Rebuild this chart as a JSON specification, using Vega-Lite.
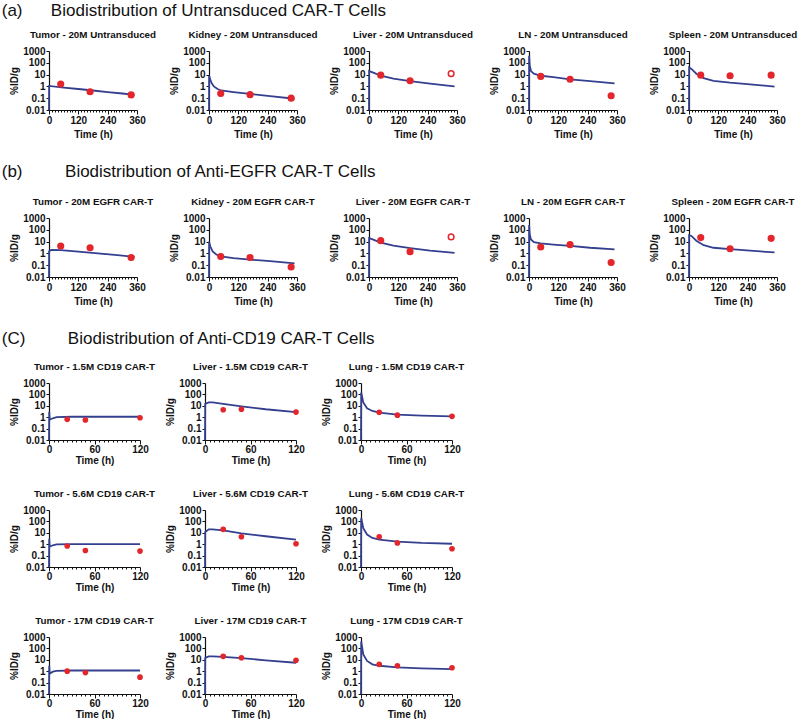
{
  "$schema": "https://vega.github.io/schema/vega-lite/v6.json",
  "background": "white",
  "padding": {"left": 1, "top": 2, "right": 0, "bottom": 0},
  "config": {
    "font": "Liberation Sans",
    "view": {"stroke": null},
    "title": {"font": "Liberation Sans", "fontSize": 9.8, "fontWeight": "bold", "color": "#111111", "offset": 6},
    "axis": {"grid": false, "domainColor": "#111111", "tickColor": "#111111", "labelColor": "#111111", "titleColor": "#111111", "labelFont": "Liberation Sans", "titleFont": "Liberation Sans", "labelFontSize": 10, "labelFontWeight": "bold", "titleFontSize": 10, "titleFontWeight": "bold", "tickSize": 3, "labelPadding": 1, "domainWidth": 1.2, "tickWidth": 1}
  },
  "datasets": {
    "d": [
      {"p": "a1", "k": "c", "t": 0, "v": 0.01}, {"p": "a1", "k": "c", "t": 0.5, "v": 1.1}, {"p": "a1", "k": "c", "t": 60, "v": 0.8}, {"p": "a1", "k": "c", "t": 120, "v": 0.6}, {"p": "a1", "k": "c", "t": 180, "v": 0.45}, {"p": "a1", "k": "c", "t": 240, "v": 0.33}, {"p": "a1", "k": "c", "t": 300, "v": 0.25}, {"p": "a1", "k": "c", "t": 350, "v": 0.19},
      {"p": "a1", "k": "p", "t": 48, "v": 1.6}, {"p": "a1", "k": "p", "t": 168, "v": 0.35}, {"p": "a1", "k": "p", "t": 336, "v": 0.19},
      {"p": "a2", "k": "c", "t": 0, "v": 0.01}, {"p": "a2", "k": "c", "t": 0.5, "v": 8}, {"p": "a2", "k": "c", "t": 5, "v": 4}, {"p": "a2", "k": "c", "t": 10, "v": 2}, {"p": "a2", "k": "c", "t": 20, "v": 1}, {"p": "a2", "k": "c", "t": 35, "v": 0.6}, {"p": "a2", "k": "c", "t": 50, "v": 0.45}, {"p": "a2", "k": "c", "t": 100, "v": 0.33}, {"p": "a2", "k": "c", "t": 168, "v": 0.23}, {"p": "a2", "k": "c", "t": 250, "v": 0.15}, {"p": "a2", "k": "c", "t": 350, "v": 0.09},
      {"p": "a2", "k": "p", "t": 48, "v": 0.25}, {"p": "a2", "k": "p", "t": 168, "v": 0.2}, {"p": "a2", "k": "p", "t": 336, "v": 0.1},
      {"p": "a3", "k": "c", "t": 0, "v": 0.01}, {"p": "a3", "k": "c", "t": 0.5, "v": 20}, {"p": "a3", "k": "c", "t": 20, "v": 14}, {"p": "a3", "k": "c", "t": 48, "v": 8}, {"p": "a3", "k": "c", "t": 100, "v": 4.5}, {"p": "a3", "k": "c", "t": 168, "v": 2.8}, {"p": "a3", "k": "c", "t": 250, "v": 1.7}, {"p": "a3", "k": "c", "t": 350, "v": 1.0},
      {"p": "a3", "k": "p", "t": 48, "v": 9}, {"p": "a3", "k": "p", "t": 168, "v": 3}, {"p": "a3", "k": "p", "t": 336, "v": 12, "open": true},
      {"p": "a4", "k": "c", "t": 0, "v": 0.01}, {"p": "a4", "k": "c", "t": 0.5, "v": 400}, {"p": "a4", "k": "c", "t": 3, "v": 60}, {"p": "a4", "k": "c", "t": 8, "v": 20}, {"p": "a4", "k": "c", "t": 20, "v": 12}, {"p": "a4", "k": "c", "t": 48, "v": 8}, {"p": "a4", "k": "c", "t": 100, "v": 6}, {"p": "a4", "k": "c", "t": 168, "v": 4}, {"p": "a4", "k": "c", "t": 250, "v": 2.8}, {"p": "a4", "k": "c", "t": 350, "v": 1.8},
      {"p": "a4", "k": "p", "t": 48, "v": 7}, {"p": "a4", "k": "p", "t": 168, "v": 4}, {"p": "a4", "k": "p", "t": 336, "v": 0.16},
      {"p": "a5", "k": "c", "t": 0, "v": 0.01}, {"p": "a5", "k": "c", "t": 0.5, "v": 40}, {"p": "a5", "k": "c", "t": 10, "v": 30}, {"p": "a5", "k": "c", "t": 30, "v": 12}, {"p": "a5", "k": "c", "t": 60, "v": 5}, {"p": "a5", "k": "c", "t": 100, "v": 3}, {"p": "a5", "k": "c", "t": 168, "v": 2.1}, {"p": "a5", "k": "c", "t": 250, "v": 1.5}, {"p": "a5", "k": "c", "t": 350, "v": 0.95},
      {"p": "a5", "k": "p", "t": 48, "v": 9}, {"p": "a5", "k": "p", "t": 168, "v": 8}, {"p": "a5", "k": "p", "t": 336, "v": 9},
      {"p": "b1", "k": "c", "t": 0, "v": 0.01}, {"p": "b1", "k": "c", "t": 0.5, "v": 1.5}, {"p": "b1", "k": "c", "t": 10, "v": 2}, {"p": "b1", "k": "c", "t": 48, "v": 1.9}, {"p": "b1", "k": "c", "t": 120, "v": 1.4}, {"p": "b1", "k": "c", "t": 200, "v": 1}, {"p": "b1", "k": "c", "t": 280, "v": 0.7}, {"p": "b1", "k": "c", "t": 350, "v": 0.5},
      {"p": "b1", "k": "p", "t": 48, "v": 4.2}, {"p": "b1", "k": "p", "t": 168, "v": 3}, {"p": "b1", "k": "p", "t": 336, "v": 0.45},
      {"p": "b2", "k": "c", "t": 0, "v": 0.01}, {"p": "b2", "k": "c", "t": 0.5, "v": 10}, {"p": "b2", "k": "c", "t": 5, "v": 4}, {"p": "b2", "k": "c", "t": 15, "v": 1.5}, {"p": "b2", "k": "c", "t": 30, "v": 0.8}, {"p": "b2", "k": "c", "t": 48, "v": 0.55}, {"p": "b2", "k": "c", "t": 100, "v": 0.4}, {"p": "b2", "k": "c", "t": 168, "v": 0.3}, {"p": "b2", "k": "c", "t": 250, "v": 0.22}, {"p": "b2", "k": "c", "t": 350, "v": 0.14},
      {"p": "b2", "k": "p", "t": 48, "v": 0.55}, {"p": "b2", "k": "p", "t": 168, "v": 0.45}, {"p": "b2", "k": "p", "t": 336, "v": 0.07},
      {"p": "b3", "k": "c", "t": 0, "v": 0.01}, {"p": "b3", "k": "c", "t": 0.5, "v": 20}, {"p": "b3", "k": "c", "t": 20, "v": 14}, {"p": "b3", "k": "c", "t": 48, "v": 8}, {"p": "b3", "k": "c", "t": 100, "v": 4.5}, {"p": "b3", "k": "c", "t": 168, "v": 2.8}, {"p": "b3", "k": "c", "t": 250, "v": 1.7}, {"p": "b3", "k": "c", "t": 350, "v": 1.1},
      {"p": "b3", "k": "p", "t": 48, "v": 12}, {"p": "b3", "k": "p", "t": 168, "v": 1.4}, {"p": "b3", "k": "p", "t": 336, "v": 25, "open": true},
      {"p": "b4", "k": "c", "t": 0, "v": 0.01}, {"p": "b4", "k": "c", "t": 0.5, "v": 250}, {"p": "b4", "k": "c", "t": 3, "v": 40}, {"p": "b4", "k": "c", "t": 8, "v": 15}, {"p": "b4", "k": "c", "t": 20, "v": 9}, {"p": "b4", "k": "c", "t": 48, "v": 7}, {"p": "b4", "k": "c", "t": 100, "v": 5.5}, {"p": "b4", "k": "c", "t": 168, "v": 4.3}, {"p": "b4", "k": "c", "t": 250, "v": 3}, {"p": "b4", "k": "c", "t": 350, "v": 2.2},
      {"p": "b4", "k": "p", "t": 48, "v": 3.5}, {"p": "b4", "k": "p", "t": 168, "v": 5.5}, {"p": "b4", "k": "p", "t": 336, "v": 0.17},
      {"p": "b5", "k": "c", "t": 0, "v": 0.01}, {"p": "b5", "k": "c", "t": 0.5, "v": 35}, {"p": "b5", "k": "c", "t": 10, "v": 30}, {"p": "b5", "k": "c", "t": 30, "v": 12}, {"p": "b5", "k": "c", "t": 60, "v": 5}, {"p": "b5", "k": "c", "t": 100, "v": 3}, {"p": "b5", "k": "c", "t": 168, "v": 2.3}, {"p": "b5", "k": "c", "t": 250, "v": 1.7}, {"p": "b5", "k": "c", "t": 350, "v": 1.2},
      {"p": "b5", "k": "p", "t": 48, "v": 22}, {"p": "b5", "k": "p", "t": 168, "v": 2.5}, {"p": "b5", "k": "p", "t": 336, "v": 19},
      {"p": "c1", "k": "c", "t": 0, "v": 0.01}, {"p": "c1", "k": "c", "t": 0.3, "v": 3}, {"p": "c1", "k": "c", "t": 1, "v": 0.6}, {"p": "c1", "k": "c", "t": 5, "v": 0.8}, {"p": "c1", "k": "c", "t": 10, "v": 1.0}, {"p": "c1", "k": "c", "t": 30, "v": 1.1}, {"p": "c1", "k": "c", "t": 120, "v": 1.1},
      {"p": "c1", "k": "p", "t": 24, "v": 0.65}, {"p": "c1", "k": "p", "t": 48, "v": 0.57}, {"p": "c1", "k": "p", "t": 120, "v": 0.9},
      {"p": "c2", "k": "c", "t": 0, "v": 0.01}, {"p": "c2", "k": "c", "t": 0.3, "v": 15}, {"p": "c2", "k": "c", "t": 5, "v": 20}, {"p": "c2", "k": "c", "t": 10, "v": 20}, {"p": "c2", "k": "c", "t": 24, "v": 15}, {"p": "c2", "k": "c", "t": 48, "v": 9}, {"p": "c2", "k": "c", "t": 80, "v": 5}, {"p": "c2", "k": "c", "t": 120, "v": 2.8},
      {"p": "c2", "k": "p", "t": 24, "v": 4.5}, {"p": "c2", "k": "p", "t": 48, "v": 5}, {"p": "c2", "k": "p", "t": 120, "v": 2.8},
      {"p": "c3", "k": "c", "t": 0, "v": 0.01}, {"p": "c3", "k": "c", "t": 0.3, "v": 150}, {"p": "c3", "k": "c", "t": 3, "v": 20}, {"p": "c3", "k": "c", "t": 8, "v": 6}, {"p": "c3", "k": "c", "t": 15, "v": 3.5}, {"p": "c3", "k": "c", "t": 24, "v": 2.5}, {"p": "c3", "k": "c", "t": 48, "v": 1.7}, {"p": "c3", "k": "c", "t": 80, "v": 1.4}, {"p": "c3", "k": "c", "t": 120, "v": 1.2},
      {"p": "c3", "k": "p", "t": 24, "v": 2.7}, {"p": "c3", "k": "p", "t": 48, "v": 1.5}, {"p": "c3", "k": "p", "t": 120, "v": 1.2},
      {"p": "c4", "k": "c", "t": 0, "v": 0.01}, {"p": "c4", "k": "c", "t": 0.3, "v": 3}, {"p": "c4", "k": "c", "t": 1, "v": 0.6}, {"p": "c4", "k": "c", "t": 5, "v": 0.8}, {"p": "c4", "k": "c", "t": 10, "v": 0.95}, {"p": "c4", "k": "c", "t": 30, "v": 1.0}, {"p": "c4", "k": "c", "t": 120, "v": 1.0},
      {"p": "c4", "k": "p", "t": 24, "v": 0.7}, {"p": "c4", "k": "p", "t": 48, "v": 0.28}, {"p": "c4", "k": "p", "t": 120, "v": 0.25},
      {"p": "c5", "k": "c", "t": 0, "v": 0.01}, {"p": "c5", "k": "c", "t": 0.3, "v": 12}, {"p": "c5", "k": "c", "t": 5, "v": 20}, {"p": "c5", "k": "c", "t": 10, "v": 20}, {"p": "c5", "k": "c", "t": 24, "v": 16}, {"p": "c5", "k": "c", "t": 48, "v": 9}, {"p": "c5", "k": "c", "t": 80, "v": 5}, {"p": "c5", "k": "c", "t": 120, "v": 2.5},
      {"p": "c5", "k": "p", "t": 24, "v": 20}, {"p": "c5", "k": "p", "t": 48, "v": 4.5}, {"p": "c5", "k": "p", "t": 120, "v": 1.1},
      {"p": "c6", "k": "c", "t": 0, "v": 0.01}, {"p": "c6", "k": "c", "t": 0.3, "v": 200}, {"p": "c6", "k": "c", "t": 3, "v": 25}, {"p": "c6", "k": "c", "t": 8, "v": 7}, {"p": "c6", "k": "c", "t": 15, "v": 3.5}, {"p": "c6", "k": "c", "t": 24, "v": 2.5}, {"p": "c6", "k": "c", "t": 48, "v": 1.7}, {"p": "c6", "k": "c", "t": 80, "v": 1.3}, {"p": "c6", "k": "c", "t": 120, "v": 1.1},
      {"p": "c6", "k": "p", "t": 24, "v": 4.5}, {"p": "c6", "k": "p", "t": 48, "v": 1.3}, {"p": "c6", "k": "p", "t": 120, "v": 0.4},
      {"p": "c7", "k": "c", "t": 0, "v": 0.01}, {"p": "c7", "k": "c", "t": 0.3, "v": 3}, {"p": "c7", "k": "c", "t": 1, "v": 0.6}, {"p": "c7", "k": "c", "t": 5, "v": 0.9}, {"p": "c7", "k": "c", "t": 10, "v": 1.05}, {"p": "c7", "k": "c", "t": 30, "v": 1.15}, {"p": "c7", "k": "c", "t": 120, "v": 1.15},
      {"p": "c7", "k": "p", "t": 24, "v": 1.0}, {"p": "c7", "k": "p", "t": 48, "v": 0.75}, {"p": "c7", "k": "p", "t": 120, "v": 0.3},
      {"p": "c8", "k": "c", "t": 0, "v": 0.01}, {"p": "c8", "k": "c", "t": 0.3, "v": 15}, {"p": "c8", "k": "c", "t": 5, "v": 20}, {"p": "c8", "k": "c", "t": 10, "v": 20}, {"p": "c8", "k": "c", "t": 24, "v": 18}, {"p": "c8", "k": "c", "t": 48, "v": 14}, {"p": "c8", "k": "c", "t": 80, "v": 9}, {"p": "c8", "k": "c", "t": 120, "v": 5.5},
      {"p": "c8", "k": "p", "t": 24, "v": 20}, {"p": "c8", "k": "p", "t": 48, "v": 15}, {"p": "c8", "k": "p", "t": 120, "v": 9},
      {"p": "c9", "k": "c", "t": 0, "v": 0.01}, {"p": "c9", "k": "c", "t": 0.3, "v": 400}, {"p": "c9", "k": "c", "t": 3, "v": 30}, {"p": "c9", "k": "c", "t": 8, "v": 8}, {"p": "c9", "k": "c", "t": 15, "v": 4}, {"p": "c9", "k": "c", "t": 24, "v": 3}, {"p": "c9", "k": "c", "t": 48, "v": 2.2}, {"p": "c9", "k": "c", "t": 80, "v": 1.8}, {"p": "c9", "k": "c", "t": 120, "v": 1.5},
      {"p": "c9", "k": "p", "t": 24, "v": 4}, {"p": "c9", "k": "p", "t": 48, "v": 3}, {"p": "c9", "k": "p", "t": 120, "v": 2}
    ]
  },
  "spacing": 24,
  "vconcat": [
    {
      "title": {"text": "(a)\u00a0\u00a0\u00a0\u00a0\u00a0\u00a0Biodistribution of Untransduced CAR-T Cells", "fontSize": 17, "fontWeight": "normal", "anchor": "start", "frame": "bounds", "offset": 10, "dx": -8},
      "bounds": "flush", "spacing": 72,
      "hconcat": [
        {"title": "Tumor - 20M Untransduced", "width": 88, "height": 59, "data": {"name": "d"}, "transform": [{"filter": "datum.p === 'a1'"}],
         "encoding": {"x": {"field": "t", "type": "quantitative", "scale": {"domain": [0, 360], "nice": false}, "axis": {"title": "Time (h)", "values": [0,12,24,36,48,60,72,84,96,108,120,132,144,156,168,180,192,204,216,228,240,252,264,276,288,300,312,324,336,348,360], "labelExpr": "datum.value % 120 === 0 ? datum.label : ''", "tickSize": {"condition": {"test": "datum.value % 120 === 0", "value": 4}, "value": 2}, "labelFlush": false, "labelOverlap": false}},
                      "y": {"field": "v", "type": "quantitative", "scale": {"type": "log", "domain": [0.01, 1000], "nice": false}, "axis": {"title": "%ID/g", "values": [0.01, 0.1, 1, 10, 100, 1000], "format": "~g", "labelOverlap": false, "titlePadding": 3}}},
         "layer": [
           {"transform": [{"filter": "datum.k === 'c'"}], "mark": {"type": "line", "color": "#34408f", "strokeWidth": 1.8}},
           {"transform": [{"filter": "datum.k === 'p'"}], "mark": {"type": "point", "shape": "circle", "size": 32, "strokeWidth": 1.5, "color": "#e3262c", "opacity": 1}, "encoding": {"fill": {"condition": {"test": "datum.open", "value": "white"}, "value": "#e3262c"}}}
         ]},
        {"title": "Kidney - 20M Untransduced", "width": 88, "height": 59, "data": {"name": "d"}, "transform": [{"filter": "datum.p === 'a2'"}],
         "encoding": {"x": {"field": "t", "type": "quantitative", "scale": {"domain": [0, 360], "nice": false}, "axis": {"title": "Time (h)", "values": [0,12,24,36,48,60,72,84,96,108,120,132,144,156,168,180,192,204,216,228,240,252,264,276,288,300,312,324,336,348,360], "labelExpr": "datum.value % 120 === 0 ? datum.label : ''", "tickSize": {"condition": {"test": "datum.value % 120 === 0", "value": 4}, "value": 2}, "labelFlush": false, "labelOverlap": false}},
                      "y": {"field": "v", "type": "quantitative", "scale": {"type": "log", "domain": [0.01, 1000], "nice": false}, "axis": {"title": "%ID/g", "values": [0.01, 0.1, 1, 10, 100, 1000], "format": "~g", "labelOverlap": false, "titlePadding": 3}}},
         "layer": [
           {"transform": [{"filter": "datum.k === 'c'"}], "mark": {"type": "line", "color": "#34408f", "strokeWidth": 1.8}},
           {"transform": [{"filter": "datum.k === 'p'"}], "mark": {"type": "point", "shape": "circle", "size": 32, "strokeWidth": 1.5, "color": "#e3262c", "opacity": 1}, "encoding": {"fill": {"condition": {"test": "datum.open", "value": "white"}, "value": "#e3262c"}}}
         ]},
        {"title": "Liver - 20M Untransduced", "width": 88, "height": 59, "data": {"name": "d"}, "transform": [{"filter": "datum.p === 'a3'"}],
         "encoding": {"x": {"field": "t", "type": "quantitative", "scale": {"domain": [0, 360], "nice": false}, "axis": {"title": "Time (h)", "values": [0,12,24,36,48,60,72,84,96,108,120,132,144,156,168,180,192,204,216,228,240,252,264,276,288,300,312,324,336,348,360], "labelExpr": "datum.value % 120 === 0 ? datum.label : ''", "tickSize": {"condition": {"test": "datum.value % 120 === 0", "value": 4}, "value": 2}, "labelFlush": false, "labelOverlap": false}},
                      "y": {"field": "v", "type": "quantitative", "scale": {"type": "log", "domain": [0.01, 1000], "nice": false}, "axis": {"title": "%ID/g", "values": [0.01, 0.1, 1, 10, 100, 1000], "format": "~g", "labelOverlap": false, "titlePadding": 3}}},
         "layer": [
           {"transform": [{"filter": "datum.k === 'c'"}], "mark": {"type": "line", "color": "#34408f", "strokeWidth": 1.8}},
           {"transform": [{"filter": "datum.k === 'p'"}], "mark": {"type": "point", "shape": "circle", "size": 32, "strokeWidth": 1.5, "color": "#e3262c", "opacity": 1}, "encoding": {"fill": {"condition": {"test": "datum.open", "value": "white"}, "value": "#e3262c"}}}
         ]},
        {"title": "LN - 20M Untransduced", "width": 88, "height": 59, "data": {"name": "d"}, "transform": [{"filter": "datum.p === 'a4'"}],
         "encoding": {"x": {"field": "t", "type": "quantitative", "scale": {"domain": [0, 360], "nice": false}, "axis": {"title": "Time (h)", "values": [0,12,24,36,48,60,72,84,96,108,120,132,144,156,168,180,192,204,216,228,240,252,264,276,288,300,312,324,336,348,360], "labelExpr": "datum.value % 120 === 0 ? datum.label : ''", "tickSize": {"condition": {"test": "datum.value % 120 === 0", "value": 4}, "value": 2}, "labelFlush": false, "labelOverlap": false}},
                      "y": {"field": "v", "type": "quantitative", "scale": {"type": "log", "domain": [0.01, 1000], "nice": false}, "axis": {"title": "%ID/g", "values": [0.01, 0.1, 1, 10, 100, 1000], "format": "~g", "labelOverlap": false, "titlePadding": 3}}},
         "layer": [
           {"transform": [{"filter": "datum.k === 'c'"}], "mark": {"type": "line", "color": "#34408f", "strokeWidth": 1.8}},
           {"transform": [{"filter": "datum.k === 'p'"}], "mark": {"type": "point", "shape": "circle", "size": 32, "strokeWidth": 1.5, "color": "#e3262c", "opacity": 1}, "encoding": {"fill": {"condition": {"test": "datum.open", "value": "white"}, "value": "#e3262c"}}}
         ]},
        {"title": "Spleen - 20M Untransduced", "width": 88, "height": 59, "data": {"name": "d"}, "transform": [{"filter": "datum.p === 'a5'"}],
         "encoding": {"x": {"field": "t", "type": "quantitative", "scale": {"domain": [0, 360], "nice": false}, "axis": {"title": "Time (h)", "values": [0,12,24,36,48,60,72,84,96,108,120,132,144,156,168,180,192,204,216,228,240,252,264,276,288,300,312,324,336,348,360], "labelExpr": "datum.value % 120 === 0 ? datum.label : ''", "tickSize": {"condition": {"test": "datum.value % 120 === 0", "value": 4}, "value": 2}, "labelFlush": false, "labelOverlap": false}},
                      "y": {"field": "v", "type": "quantitative", "scale": {"type": "log", "domain": [0.01, 1000], "nice": false}, "axis": {"title": "%ID/g", "values": [0.01, 0.1, 1, 10, 100, 1000], "format": "~g", "labelOverlap": false, "titlePadding": 3}}},
         "layer": [
           {"transform": [{"filter": "datum.k === 'c'"}], "mark": {"type": "line", "color": "#34408f", "strokeWidth": 1.8}},
           {"transform": [{"filter": "datum.k === 'p'"}], "mark": {"type": "point", "shape": "circle", "size": 32, "strokeWidth": 1.5, "color": "#e3262c", "opacity": 1}, "encoding": {"fill": {"condition": {"test": "datum.open", "value": "white"}, "value": "#e3262c"}}}
         ]}
      ]
    },
    {
      "title": {"text": "(b)\u00a0\u00a0\u00a0\u00a0\u00a0\u00a0\u00a0\u00a0\u00a0Biodistribution of Anti-EGFR CAR-T Cells", "fontSize": 17, "fontWeight": "normal", "anchor": "start", "frame": "bounds", "offset": 16, "dx": -8},
      "bounds": "flush", "spacing": 72,
      "hconcat": [
        {"title": "Tumor - 20M EGFR CAR-T", "width": 88, "height": 59, "data": {"name": "d"}, "transform": [{"filter": "datum.p === 'b1'"}],
         "encoding": {"x": {"field": "t", "type": "quantitative", "scale": {"domain": [0, 360], "nice": false}, "axis": {"title": "Time (h)", "values": [0,12,24,36,48,60,72,84,96,108,120,132,144,156,168,180,192,204,216,228,240,252,264,276,288,300,312,324,336,348,360], "labelExpr": "datum.value % 120 === 0 ? datum.label : ''", "tickSize": {"condition": {"test": "datum.value % 120 === 0", "value": 4}, "value": 2}, "labelFlush": false, "labelOverlap": false}},
                      "y": {"field": "v", "type": "quantitative", "scale": {"type": "log", "domain": [0.01, 1000], "nice": false}, "axis": {"title": "%ID/g", "values": [0.01, 0.1, 1, 10, 100, 1000], "format": "~g", "labelOverlap": false, "titlePadding": 3}}},
         "layer": [
           {"transform": [{"filter": "datum.k === 'c'"}], "mark": {"type": "line", "color": "#34408f", "strokeWidth": 1.8}},
           {"transform": [{"filter": "datum.k === 'p'"}], "mark": {"type": "point", "shape": "circle", "size": 32, "strokeWidth": 1.5, "color": "#e3262c", "opacity": 1}, "encoding": {"fill": {"condition": {"test": "datum.open", "value": "white"}, "value": "#e3262c"}}}
         ]},
        {"title": "Kidney - 20M EGFR CAR-T", "width": 88, "height": 59, "data": {"name": "d"}, "transform": [{"filter": "datum.p === 'b2'"}],
         "encoding": {"x": {"field": "t", "type": "quantitative", "scale": {"domain": [0, 360], "nice": false}, "axis": {"title": "Time (h)", "values": [0,12,24,36,48,60,72,84,96,108,120,132,144,156,168,180,192,204,216,228,240,252,264,276,288,300,312,324,336,348,360], "labelExpr": "datum.value % 120 === 0 ? datum.label : ''", "tickSize": {"condition": {"test": "datum.value % 120 === 0", "value": 4}, "value": 2}, "labelFlush": false, "labelOverlap": false}},
                      "y": {"field": "v", "type": "quantitative", "scale": {"type": "log", "domain": [0.01, 1000], "nice": false}, "axis": {"title": "%ID/g", "values": [0.01, 0.1, 1, 10, 100, 1000], "format": "~g", "labelOverlap": false, "titlePadding": 3}}},
         "layer": [
           {"transform": [{"filter": "datum.k === 'c'"}], "mark": {"type": "line", "color": "#34408f", "strokeWidth": 1.8}},
           {"transform": [{"filter": "datum.k === 'p'"}], "mark": {"type": "point", "shape": "circle", "size": 32, "strokeWidth": 1.5, "color": "#e3262c", "opacity": 1}, "encoding": {"fill": {"condition": {"test": "datum.open", "value": "white"}, "value": "#e3262c"}}}
         ]},
        {"title": "Liver - 20M EGFR CAR-T", "width": 88, "height": 59, "data": {"name": "d"}, "transform": [{"filter": "datum.p === 'b3'"}],
         "encoding": {"x": {"field": "t", "type": "quantitative", "scale": {"domain": [0, 360], "nice": false}, "axis": {"title": "Time (h)", "values": [0,12,24,36,48,60,72,84,96,108,120,132,144,156,168,180,192,204,216,228,240,252,264,276,288,300,312,324,336,348,360], "labelExpr": "datum.value % 120 === 0 ? datum.label : ''", "tickSize": {"condition": {"test": "datum.value % 120 === 0", "value": 4}, "value": 2}, "labelFlush": false, "labelOverlap": false}},
                      "y": {"field": "v", "type": "quantitative", "scale": {"type": "log", "domain": [0.01, 1000], "nice": false}, "axis": {"title": "%ID/g", "values": [0.01, 0.1, 1, 10, 100, 1000], "format": "~g", "labelOverlap": false, "titlePadding": 3}}},
         "layer": [
           {"transform": [{"filter": "datum.k === 'c'"}], "mark": {"type": "line", "color": "#34408f", "strokeWidth": 1.8}},
           {"transform": [{"filter": "datum.k === 'p'"}], "mark": {"type": "point", "shape": "circle", "size": 32, "strokeWidth": 1.5, "color": "#e3262c", "opacity": 1}, "encoding": {"fill": {"condition": {"test": "datum.open", "value": "white"}, "value": "#e3262c"}}}
         ]},
        {"title": "LN - 20M EGFR CAR-T", "width": 88, "height": 59, "data": {"name": "d"}, "transform": [{"filter": "datum.p === 'b4'"}],
         "encoding": {"x": {"field": "t", "type": "quantitative", "scale": {"domain": [0, 360], "nice": false}, "axis": {"title": "Time (h)", "values": [0,12,24,36,48,60,72,84,96,108,120,132,144,156,168,180,192,204,216,228,240,252,264,276,288,300,312,324,336,348,360], "labelExpr": "datum.value % 120 === 0 ? datum.label : ''", "tickSize": {"condition": {"test": "datum.value % 120 === 0", "value": 4}, "value": 2}, "labelFlush": false, "labelOverlap": false}},
                      "y": {"field": "v", "type": "quantitative", "scale": {"type": "log", "domain": [0.01, 1000], "nice": false}, "axis": {"title": "%ID/g", "values": [0.01, 0.1, 1, 10, 100, 1000], "format": "~g", "labelOverlap": false, "titlePadding": 3}}},
         "layer": [
           {"transform": [{"filter": "datum.k === 'c'"}], "mark": {"type": "line", "color": "#34408f", "strokeWidth": 1.8}},
           {"transform": [{"filter": "datum.k === 'p'"}], "mark": {"type": "point", "shape": "circle", "size": 32, "strokeWidth": 1.5, "color": "#e3262c", "opacity": 1}, "encoding": {"fill": {"condition": {"test": "datum.open", "value": "white"}, "value": "#e3262c"}}}
         ]},
        {"title": "Spleen - 20M EGFR CAR-T", "width": 88, "height": 59, "data": {"name": "d"}, "transform": [{"filter": "datum.p === 'b5'"}],
         "encoding": {"x": {"field": "t", "type": "quantitative", "scale": {"domain": [0, 360], "nice": false}, "axis": {"title": "Time (h)", "values": [0,12,24,36,48,60,72,84,96,108,120,132,144,156,168,180,192,204,216,228,240,252,264,276,288,300,312,324,336,348,360], "labelExpr": "datum.value % 120 === 0 ? datum.label : ''", "tickSize": {"condition": {"test": "datum.value % 120 === 0", "value": 4}, "value": 2}, "labelFlush": false, "labelOverlap": false}},
                      "y": {"field": "v", "type": "quantitative", "scale": {"type": "log", "domain": [0.01, 1000], "nice": false}, "axis": {"title": "%ID/g", "values": [0.01, 0.1, 1, 10, 100, 1000], "format": "~g", "labelOverlap": false, "titlePadding": 3}}},
         "layer": [
           {"transform": [{"filter": "datum.k === 'c'"}], "mark": {"type": "line", "color": "#34408f", "strokeWidth": 1.8}},
           {"transform": [{"filter": "datum.k === 'p'"}], "mark": {"type": "point", "shape": "circle", "size": 32, "strokeWidth": 1.5, "color": "#e3262c", "opacity": 1}, "encoding": {"fill": {"condition": {"test": "datum.open", "value": "white"}, "value": "#e3262c"}}}
         ]}
      ]
    },
    {
      "title": {"text": "(C)\u00a0\u00a0\u00a0\u00a0\u00a0\u00a0\u00a0\u00a0\u00a0Biodistribution of Anti-CD19 CAR-T Cells", "fontSize": 17, "fontWeight": "normal", "anchor": "start", "frame": "bounds", "offset": 14, "dx": -8},
      "bounds": "flush", "spacing": 65,
      "hconcat": [
        {"title": "Tumor - 1.5M CD19 CAR-T", "width": 91, "height": 57, "data": {"name": "d"}, "transform": [{"filter": "datum.p === 'c1'"}],
         "encoding": {"x": {"field": "t", "type": "quantitative", "scale": {"domain": [0, 120], "nice": false}, "axis": {"title": "Time (h)", "values": [0,6,12,18,24,30,36,42,48,54,60,66,72,78,84,90,96,102,108,114,120], "labelExpr": "datum.value % 60 === 0 ? datum.label : ''", "tickSize": {"condition": {"test": "datum.value % 60 === 0", "value": 4}, "value": 2}, "labelFlush": false, "labelOverlap": false, "labelPadding": 0, "titlePadding": 1}},
                      "y": {"field": "v", "type": "quantitative", "scale": {"type": "log", "domain": [0.01, 1000], "nice": false}, "axis": {"title": "%ID/g", "values": [0.01, 0.1, 1, 10, 100, 1000], "format": "~g", "labelOverlap": false, "titlePadding": 3}}},
         "layer": [
           {"transform": [{"filter": "datum.k === 'c'"}], "mark": {"type": "line", "color": "#34408f", "strokeWidth": 1.8}},
           {"transform": [{"filter": "datum.k === 'p'"}], "mark": {"type": "point", "shape": "circle", "size": 32, "strokeWidth": 1.5, "color": "#e3262c", "opacity": 1, "filled": true}}
         ]},
        {"title": "Liver - 1.5M CD19 CAR-T", "width": 91, "height": 57, "data": {"name": "d"}, "transform": [{"filter": "datum.p === 'c2'"}],
         "encoding": {"x": {"field": "t", "type": "quantitative", "scale": {"domain": [0, 120], "nice": false}, "axis": {"title": "Time (h)", "values": [0,6,12,18,24,30,36,42,48,54,60,66,72,78,84,90,96,102,108,114,120], "labelExpr": "datum.value % 60 === 0 ? datum.label : ''", "tickSize": {"condition": {"test": "datum.value % 60 === 0", "value": 4}, "value": 2}, "labelFlush": false, "labelOverlap": false, "labelPadding": 0, "titlePadding": 1}},
                      "y": {"field": "v", "type": "quantitative", "scale": {"type": "log", "domain": [0.01, 1000], "nice": false}, "axis": {"title": "%ID/g", "values": [0.01, 0.1, 1, 10, 100, 1000], "format": "~g", "labelOverlap": false, "titlePadding": 3}}},
         "layer": [
           {"transform": [{"filter": "datum.k === 'c'"}], "mark": {"type": "line", "color": "#34408f", "strokeWidth": 1.8}},
           {"transform": [{"filter": "datum.k === 'p'"}], "mark": {"type": "point", "shape": "circle", "size": 32, "strokeWidth": 1.5, "color": "#e3262c", "opacity": 1, "filled": true}}
         ]},
        {"title": "Lung - 1.5M CD19 CAR-T", "width": 91, "height": 57, "data": {"name": "d"}, "transform": [{"filter": "datum.p === 'c3'"}],
         "encoding": {"x": {"field": "t", "type": "quantitative", "scale": {"domain": [0, 120], "nice": false}, "axis": {"title": "Time (h)", "values": [0,6,12,18,24,30,36,42,48,54,60,66,72,78,84,90,96,102,108,114,120], "labelExpr": "datum.value % 60 === 0 ? datum.label : ''", "tickSize": {"condition": {"test": "datum.value % 60 === 0", "value": 4}, "value": 2}, "labelFlush": false, "labelOverlap": false, "labelPadding": 0, "titlePadding": 1}},
                      "y": {"field": "v", "type": "quantitative", "scale": {"type": "log", "domain": [0.01, 1000], "nice": false}, "axis": {"title": "%ID/g", "values": [0.01, 0.1, 1, 10, 100, 1000], "format": "~g", "labelOverlap": false, "titlePadding": 3}}},
         "layer": [
           {"transform": [{"filter": "datum.k === 'c'"}], "mark": {"type": "line", "color": "#34408f", "strokeWidth": 1.8}},
           {"transform": [{"filter": "datum.k === 'p'"}], "mark": {"type": "point", "shape": "circle", "size": 32, "strokeWidth": 1.5, "color": "#e3262c", "opacity": 1, "filled": true}}
         ]}
      ]
    },
    {
      "bounds": "flush", "spacing": 65,
      "hconcat": [
        {"title": "Tumor - 5.6M CD19 CAR-T", "width": 91, "height": 57, "data": {"name": "d"}, "transform": [{"filter": "datum.p === 'c4'"}],
         "encoding": {"x": {"field": "t", "type": "quantitative", "scale": {"domain": [0, 120], "nice": false}, "axis": {"title": "Time (h)", "values": [0,6,12,18,24,30,36,42,48,54,60,66,72,78,84,90,96,102,108,114,120], "labelExpr": "datum.value % 60 === 0 ? datum.label : ''", "tickSize": {"condition": {"test": "datum.value % 60 === 0", "value": 4}, "value": 2}, "labelFlush": false, "labelOverlap": false, "labelPadding": 0, "titlePadding": 1}},
                      "y": {"field": "v", "type": "quantitative", "scale": {"type": "log", "domain": [0.01, 1000], "nice": false}, "axis": {"title": "%ID/g", "values": [0.01, 0.1, 1, 10, 100, 1000], "format": "~g", "labelOverlap": false, "titlePadding": 3}}},
         "layer": [
           {"transform": [{"filter": "datum.k === 'c'"}], "mark": {"type": "line", "color": "#34408f", "strokeWidth": 1.8}},
           {"transform": [{"filter": "datum.k === 'p'"}], "mark": {"type": "point", "shape": "circle", "size": 32, "strokeWidth": 1.5, "color": "#e3262c", "opacity": 1, "filled": true}}
         ]},
        {"title": "Liver - 5.6M CD19 CAR-T", "width": 91, "height": 57, "data": {"name": "d"}, "transform": [{"filter": "datum.p === 'c5'"}],
         "encoding": {"x": {"field": "t", "type": "quantitative", "scale": {"domain": [0, 120], "nice": false}, "axis": {"title": "Time (h)", "values": [0,6,12,18,24,30,36,42,48,54,60,66,72,78,84,90,96,102,108,114,120], "labelExpr": "datum.value % 60 === 0 ? datum.label : ''", "tickSize": {"condition": {"test": "datum.value % 60 === 0", "value": 4}, "value": 2}, "labelFlush": false, "labelOverlap": false, "labelPadding": 0, "titlePadding": 1}},
                      "y": {"field": "v", "type": "quantitative", "scale": {"type": "log", "domain": [0.01, 1000], "nice": false}, "axis": {"title": "%ID/g", "values": [0.01, 0.1, 1, 10, 100, 1000], "format": "~g", "labelOverlap": false, "titlePadding": 3}}},
         "layer": [
           {"transform": [{"filter": "datum.k === 'c'"}], "mark": {"type": "line", "color": "#34408f", "strokeWidth": 1.8}},
           {"transform": [{"filter": "datum.k === 'p'"}], "mark": {"type": "point", "shape": "circle", "size": 32, "strokeWidth": 1.5, "color": "#e3262c", "opacity": 1, "filled": true}}
         ]},
        {"title": "Lung - 5.6M CD19 CAR-T", "width": 91, "height": 57, "data": {"name": "d"}, "transform": [{"filter": "datum.p === 'c6'"}],
         "encoding": {"x": {"field": "t", "type": "quantitative", "scale": {"domain": [0, 120], "nice": false}, "axis": {"title": "Time (h)", "values": [0,6,12,18,24,30,36,42,48,54,60,66,72,78,84,90,96,102,108,114,120], "labelExpr": "datum.value % 60 === 0 ? datum.label : ''", "tickSize": {"condition": {"test": "datum.value % 60 === 0", "value": 4}, "value": 2}, "labelFlush": false, "labelOverlap": false, "labelPadding": 0, "titlePadding": 1}},
                      "y": {"field": "v", "type": "quantitative", "scale": {"type": "log", "domain": [0.01, 1000], "nice": false}, "axis": {"title": "%ID/g", "values": [0.01, 0.1, 1, 10, 100, 1000], "format": "~g", "labelOverlap": false, "titlePadding": 3}}},
         "layer": [
           {"transform": [{"filter": "datum.k === 'c'"}], "mark": {"type": "line", "color": "#34408f", "strokeWidth": 1.8}},
           {"transform": [{"filter": "datum.k === 'p'"}], "mark": {"type": "point", "shape": "circle", "size": 32, "strokeWidth": 1.5, "color": "#e3262c", "opacity": 1, "filled": true}}
         ]}
      ]
    },
    {
      "bounds": "flush", "spacing": 65,
      "hconcat": [
        {"title": "Tumor - 17M CD19 CAR-T", "width": 91, "height": 57, "data": {"name": "d"}, "transform": [{"filter": "datum.p === 'c7'"}],
         "encoding": {"x": {"field": "t", "type": "quantitative", "scale": {"domain": [0, 120], "nice": false}, "axis": {"title": "Time (h)", "values": [0,6,12,18,24,30,36,42,48,54,60,66,72,78,84,90,96,102,108,114,120], "labelExpr": "datum.value % 60 === 0 ? datum.label : ''", "tickSize": {"condition": {"test": "datum.value % 60 === 0", "value": 4}, "value": 2}, "labelFlush": false, "labelOverlap": false, "labelPadding": 0, "titlePadding": 1}},
                      "y": {"field": "v", "type": "quantitative", "scale": {"type": "log", "domain": [0.01, 1000], "nice": false}, "axis": {"title": "%ID/g", "values": [0.01, 0.1, 1, 10, 100, 1000], "format": "~g", "labelOverlap": false, "titlePadding": 3}}},
         "layer": [
           {"transform": [{"filter": "datum.k === 'c'"}], "mark": {"type": "line", "color": "#34408f", "strokeWidth": 1.8}},
           {"transform": [{"filter": "datum.k === 'p'"}], "mark": {"type": "point", "shape": "circle", "size": 32, "strokeWidth": 1.5, "color": "#e3262c", "opacity": 1, "filled": true}}
         ]},
        {"title": "Liver - 17M CD19 CAR-T", "width": 91, "height": 57, "data": {"name": "d"}, "transform": [{"filter": "datum.p === 'c8'"}],
         "encoding": {"x": {"field": "t", "type": "quantitative", "scale": {"domain": [0, 120], "nice": false}, "axis": {"title": "Time (h)", "values": [0,6,12,18,24,30,36,42,48,54,60,66,72,78,84,90,96,102,108,114,120], "labelExpr": "datum.value % 60 === 0 ? datum.label : ''", "tickSize": {"condition": {"test": "datum.value % 60 === 0", "value": 4}, "value": 2}, "labelFlush": false, "labelOverlap": false, "labelPadding": 0, "titlePadding": 1}},
                      "y": {"field": "v", "type": "quantitative", "scale": {"type": "log", "domain": [0.01, 1000], "nice": false}, "axis": {"title": "%ID/g", "values": [0.01, 0.1, 1, 10, 100, 1000], "format": "~g", "labelOverlap": false, "titlePadding": 3}}},
         "layer": [
           {"transform": [{"filter": "datum.k === 'c'"}], "mark": {"type": "line", "color": "#34408f", "strokeWidth": 1.8}},
           {"transform": [{"filter": "datum.k === 'p'"}], "mark": {"type": "point", "shape": "circle", "size": 32, "strokeWidth": 1.5, "color": "#e3262c", "opacity": 1, "filled": true}}
         ]},
        {"title": "Lung - 17M CD19 CAR-T", "width": 91, "height": 57, "data": {"name": "d"}, "transform": [{"filter": "datum.p === 'c9'"}],
         "encoding": {"x": {"field": "t", "type": "quantitative", "scale": {"domain": [0, 120], "nice": false}, "axis": {"title": "Time (h)", "values": [0,6,12,18,24,30,36,42,48,54,60,66,72,78,84,90,96,102,108,114,120], "labelExpr": "datum.value % 60 === 0 ? datum.label : ''", "tickSize": {"condition": {"test": "datum.value % 60 === 0", "value": 4}, "value": 2}, "labelFlush": false, "labelOverlap": false, "labelPadding": 0, "titlePadding": 1}},
                      "y": {"field": "v", "type": "quantitative", "scale": {"type": "log", "domain": [0.01, 1000], "nice": false}, "axis": {"title": "%ID/g", "values": [0.01, 0.1, 1, 10, 100, 1000], "format": "~g", "labelOverlap": false, "titlePadding": 3}}},
         "layer": [
           {"transform": [{"filter": "datum.k === 'c'"}], "mark": {"type": "line", "color": "#34408f", "strokeWidth": 1.8}},
           {"transform": [{"filter": "datum.k === 'p'"}], "mark": {"type": "point", "shape": "circle", "size": 32, "strokeWidth": 1.5, "color": "#e3262c", "opacity": 1, "filled": true}}
         ]}
      ]
    }
  ]
}
